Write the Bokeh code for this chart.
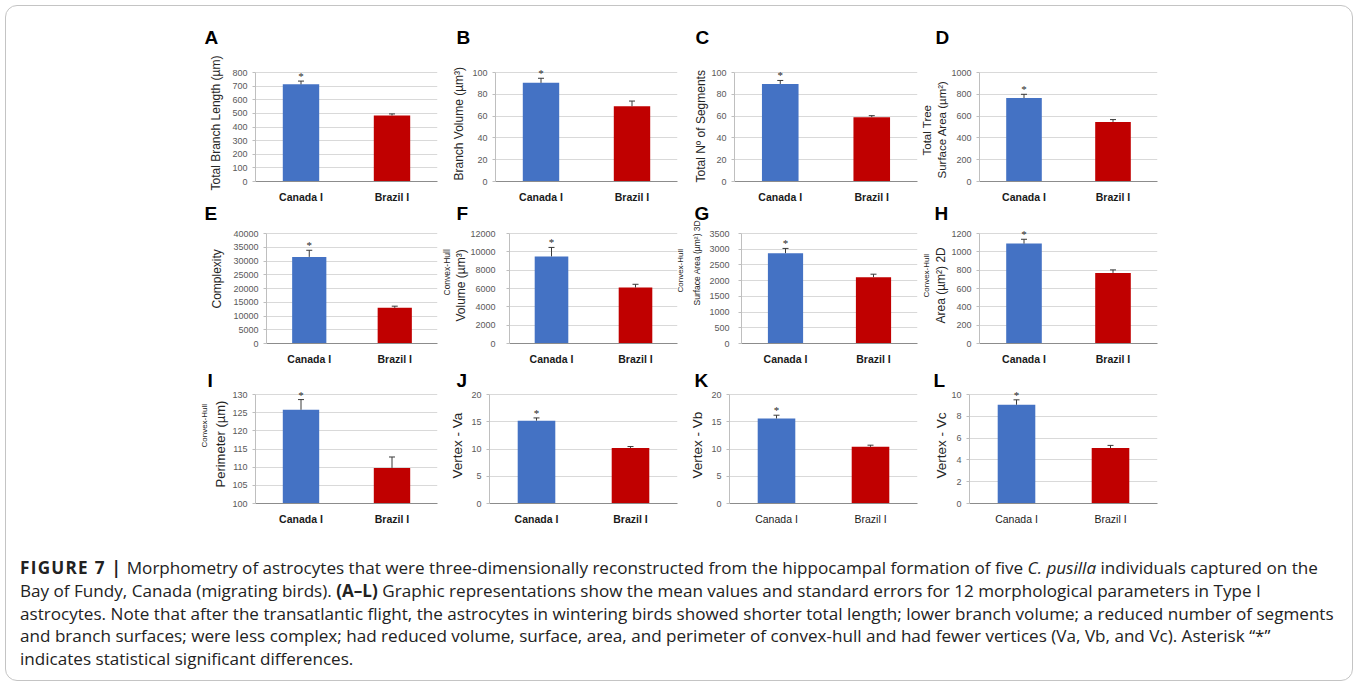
from bokeh.plotting import figure
from bokeh.models import (ColumnDataSource, FixedTicker, Range1d, LabelSet, Div,
                          BasicTickFormatter, Title)
from bokeh.layouts import column
from bokeh.embed import file_html
from bokeh.resources import INLINE

groups = ["Canada I", "Brazil I"]
bar_colors = ["#4472C4", "#C00000"]
significant = [True, False]

# Mean and standard error of each parameter (Canada I, Brazil I)
branch_length = [713, 484]
branch_length_se = [24, 12]
branch_volume = [90.5, 69.0]
branch_volume_se = [4.2, 4.8]
segments = [89.5, 59.0]
segments_se = [3.2, 1.4]
tree_surface = [766, 547]
tree_surface_se = [34, 21]
complexity = [31500, 12970]
complexity_se = [2400, 600]
hull_volume = [9500, 6100]
hull_volume_se = [980, 360]
hull_surface_3d = [2875, 2110]
hull_surface_3d_se = [150, 95]
hull_area_2d = [1090, 770]
hull_area_2d_se = [47, 33]
hull_perimeter = [125.8, 109.8]
hull_perimeter_se = [2.8, 3.0]
vertex_va = [15.2, 10.2]
vertex_va_se = [0.5, 0.25]
vertex_vb = [15.6, 10.4]
vertex_vb_se = [0.6, 0.3]
vertex_vc = [9.06, 5.09]
vertex_vc_se = [0.45, 0.24]

# y-axis tick values
ticks_a = [0, 100, 200, 300, 400, 500, 600, 700, 800]
ticks_b = [0, 20, 40, 60, 80, 100]
ticks_c = [0, 20, 40, 60, 80, 100]
ticks_d = [0, 200, 400, 600, 800, 1000]
ticks_e = [0, 5000, 10000, 15000, 20000, 25000, 30000, 35000, 40000]
ticks_f = [0, 2000, 4000, 6000, 8000, 10000, 12000]
ticks_g = [0, 500, 1000, 1500, 2000, 2500, 3000, 3500]
ticks_h = [0, 200, 400, 600, 800, 1000, 1200]
ticks_i = [100, 105, 110, 115, 120, 125, 130]
ticks_j = [0, 5, 10, 15, 20]
ticks_k = [0, 5, 10, 15, 20]
ticks_l = [0, 2, 4, 6, 8, 10]

FONT = "Liberation Sans"
HEADROOM = 4          # px of plot area above the top gridline (room for asterisks)
PAD_L, PAD_T, PAD_R, PAD_B = 120, 66, 10, 40   # canvas space around each plot area
ORIGIN = 6            # page offset of the framed box content


def panel(letter, mean, se, ticks, titles, frame, letter_off, tick_gap=5, bold_labels=True):
    fx, fy, fw, fh = frame          # plot-area left/top on the page, size
    span = ticks[-1] - ticks[0]
    y_end = ticks[-1] + span * HEADROOM / (fh - HEADROOM)
    p = figure(x_range=groups, y_range=Range1d(ticks[0], y_end),
               frame_width=fw, frame_height=fh,
               min_border_left=PAD_L, min_border_right=PAD_R,
               min_border_top=PAD_T, min_border_bottom=PAD_B,
               output_backend="svg", toolbar_location=None,
               background_fill_color="white", border_fill_color=None,
               styles={"position": "absolute",
                       "left": f"{fx - ORIGIN - PAD_L}px",
                       "top": f"{fy - ORIGIN - PAD_T}px"})
    p.outline_line_color = None

    upper = [m + s for m, s in zip(mean, se)]
    src = ColumnDataSource(dict(g=groups, m=mean, up=upper, c=bar_colors))
    p.vbar(x="g", top="m", bottom=ticks[0], width=0.4, fill_color="c",
           line_color=None, source=src)
    p.segment(x0="g", y0="m", x1="g", y1="up", line_color="#3a3a3a",
              line_width=1, source=src)
    p.scatter(x="g", y="up", marker="dash", size=6, line_color="#3a3a3a",
              line_width=1, source=src)

    sig_src = ColumnDataSource(dict(
        g=[g for g, s in zip(groups, significant) if s],
        up=[u for u, s in zip(upper, significant) if s],
        t=["*" for s in significant if s]))
    p.add_layout(LabelSet(x="g", y="up", text="t", source=sig_src,
                          text_font=FONT, text_font_size="11px",
                          text_color="#262626", text_align="center",
                          text_baseline="middle", y_offset=5))

    p.xgrid.visible = False
    p.ygrid.grid_line_color = "#d9d9d9"
    p.ygrid.grid_line_width = 1

    yax = p.yaxis[0]
    yax.ticker = FixedTicker(ticks=ticks)
    yax.bounds = (ticks[0], ticks[-1])
    yax.formatter = BasicTickFormatter(use_scientific=False)
    yax.axis_line_color = "#bfbfbf"
    yax.major_tick_line_color = "#bfbfbf"
    yax.major_tick_out = 3
    yax.major_tick_in = 0
    yax.minor_tick_line_color = None
    yax.minor_tick_out = 0
    yax.major_label_standoff = tick_gap
    yax.major_label_text_font = FONT
    yax.major_label_text_font_size = "9px"
    yax.major_label_text_color = "#595959"

    # rotated axis titles, innermost first
    for text, size, standoff, start in titles:
        p.add_layout(Title(text=text, align="left", offset=start, standoff=standoff,
                           text_font=FONT, text_font_size=size,
                           text_font_style="normal", text_color="#262626"), "left")

    xax = p.xaxis[0]
    xax.axis_line_color = "#8c8c8c"
    xax.major_tick_line_color = None
    xax.major_tick_out = 0
    xax.major_tick_in = 0
    xax.minor_tick_line_color = None
    xax.major_label_standoff = 9
    xax.major_label_text_font = FONT
    xax.major_label_text_font_size = "10.5px"
    xax.major_label_text_font_style = "bold" if bold_labels else "normal"
    xax.major_label_text_color = "#1a1a1a"

    # panel letter
    p.add_layout(Title(text=letter, align="left", offset=letter_off[0],
                       standoff=letter_off[1], text_font=FONT,
                       text_font_size="19px", text_font_style="bold",
                       text_color="#000000"), "above")
    return p


# plot-area top (incl. headroom) and height for each row of panels
ROW1 = (68, 113)
ROW2 = (229, 114)
ROW3 = (390, 113)


def fr(x, w, r):
    return (x, r[0], w, r[1])


pa = panel("A", branch_length, branch_length_se, ticks_a,
           [("Total Branch Length (µm)", "12px", 14, -9)],
           fr(255, 182, ROW1), (-51, 42))
pb = panel("B", branch_volume, branch_volume_se, ticks_b,
           [("Branch Volume (µm³)", "12px", 7, 1)],
           fr(495, 182, ROW1), (-39, 42))
pc = panel("C", segments, segments_se, ticks_c,
           [("Total Nº of Segments", "12px", 1, -1)],
           fr(734, 183, ROW1), (-39, 42))
pd = panel("D", tree_surface, tree_surface_se, ticks_d,
           [("Surface Area (µm²)", "11.5px", 1, 3), ("Total Tree", "11.5px", 1, 26)],
           fr(979, 178, ROW1), (-44, 42))

pe = panel("E", complexity, complexity_se, ticks_e,
           [("Complexity", "12px", 14, 35)],
           fr(266, 171, ROW2), (-62, 12))
pf = panel("F", hull_volume, hull_volume_se, ticks_f,
           [("Volume (µm³)", "12px", 0, 22), ("Convex-Hull", "8.5px", 0, 48)],
           fr(509, 168, ROW2), (-53, 12), tick_gap=11)
pg = panel("G", hull_surface_3d, hull_surface_3d_se, ticks_g,
           [("Surface Area (µm²) 3D", "8.5px", 10, 38), ("Convex-Hull", "8px", 0, 51)],
           fr(741, 176, ROW2), (-47, 12), tick_gap=9)
ph = panel("H", hull_area_2d, hull_area_2d_se, ticks_h,
           [("Area (µm²) 2D", "12px", 2, 20), ("Convex-Hull", "8px", 0, 46)],
           fr(979, 178, ROW2), (-45, 12))

pi_ = panel("I", hull_perimeter, hull_perimeter_se, ticks_i,
            [("Perimeter (µm)", "13px", 4, 16), ("Convex-Hull", "8px", 0, 56)],
            fr(255, 182, ROW3), (-48, 0))
pj = panel("J", vertex_va, vertex_va_se, ticks_j,
           [("Vertex - Va", "13.5px", 7, 25)],
           fr(489, 188, ROW3), (-33, 0))
pk = panel("K", vertex_vb, vertex_vb_se, ticks_k,
           [("Vertex - Vb", "13.5px", 7, 25)],
           fr(729, 188, ROW3), (-35, 0), bold_labels=False)
pl = panel("L", vertex_vc, vertex_vc_se, ticks_l,
           [("Vertex - Vc", "13.5px", 0, 25)],
           fr(969, 188, ROW3), (-36, 0), bold_labels=False)

caption_html = (
    "<div style=\"font-family:'Open Sans',sans-serif;font-size:17.1px;line-height:22.8px;"
    "color:#222;padding:22px 0 0 9px;white-space:nowrap;\">"
    "<b style=\"letter-spacing:1.3px\">FIGURE 7 |</b> Morphometry of astrocytes that were three-dimensionally "
    "reconstructed from the hippocampal formation of five <i>C. pusilla</i> individuals captured on the<br>"
    "Bay of Fundy, Canada (migrating birds). <b>(A–L)</b> Graphic representations show the mean values "
    "and standard errors for 12 morphological parameters in Type I<br>"
    "astrocytes. Note that after the transatlantic flight, the astrocytes in wintering birds showed "
    "shorter total length; lower branch volume; a reduced number of segments<br>"
    "and branch surfaces; were less complex; had reduced volume, surface, area, and perimeter of "
    "convex-hull and had fewer vertices (Va, Vb, and Vc). Asterisk “*”<br>"
    "indicates statistical significant differences."
    "</div>"
)
caption = Div(text=caption_html, width=1348, height=146,
              styles={"position": "absolute", "left": "0px", "top": "524px"})

layout = column(
    pa, pb, pc, pd, pe, pf, pg, ph, pi_, pj, pk, pl, caption,
    width=1348, height=676,
    margin=(5, 5, 5, 5),
    styles={"position": "relative", "border": "1px solid #c4c4c4",
            "border-radius": "12px", "background": "white"},
)

open("out.html", "w").write(file_html(layout, INLINE, title="Figure 7"))
